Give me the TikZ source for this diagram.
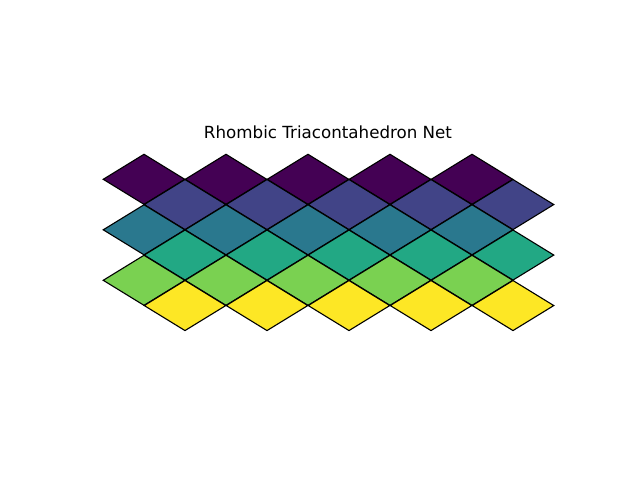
\documentclass[tikz,border=0pt]{standalone}
\usepackage{fontspec}
\setmainfont{DejaVu Sans}
\usetikzlibrary{shapes.geometric}

\definecolor{vir0}{HTML}{440154}
\definecolor{vir1}{HTML}{414487}
\definecolor{vir2}{HTML}{2A788E}
\definecolor{vir3}{HTML}{22A884}
\definecolor{vir4}{HTML}{7AD151}
\definecolor{vir5}{HTML}{FDE725}

\begin{document}
\begin{tikzpicture}[
  x=1pt, y=-1pt,
  facet/.style={diamond, draw=black, line width=1.1pt, inner sep=0pt,
                minimum width=82pt, minimum height=50.5pt},
  ttl/.style={font=\fontsize{16.7}{20}\selectfont, inner sep=0pt, anchor=base}
]
\useasboundingbox (0,0) rectangle (640,480);

\node[ttl] (title) at (328,138.3) {Rhombic Triacontahedron Net};

% six bands of five faces each
\foreach \r/\col in {0/vir0, 1/vir1, 2/vir2, 3/vir3, 4/vir4, 5/vir5} {
  \foreach \c in {0,...,4} {
    \node[facet, fill=\col] (f-\r-\c) at ({144+41*mod(\r,2)+82*\c}, {179.3+25.25*\r}) {};
  }
}

\end{tikzpicture}
\end{document}
